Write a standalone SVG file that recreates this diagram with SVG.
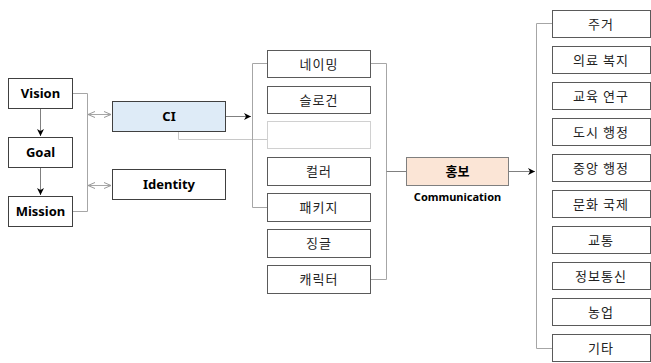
<svg xmlns="http://www.w3.org/2000/svg" width="651" height="363" viewBox="0 0 651 363">
<defs>
<style>
.bx{fill:#fff;stroke:#404040;stroke-width:1}
.mb{fill:#fff;stroke:#5a5a5a;stroke-width:1}
.ln{fill:none;stroke:#a6a6a6;stroke-width:1}
.en{font-family:"Noto Sans","Noto Sans CJK KR",sans-serif;font-weight:bold;font-size:13px;fill:#000;text-anchor:middle}
.kr{font-family:"Noto Sans CJK KR",sans-serif;font-size:13px;fill:#222;text-anchor:middle;letter-spacing:1px}
</style>
<marker id="ah" markerWidth="8" markerHeight="8" refX="7" refY="4" orient="auto" markerUnits="userSpaceOnUse">
<path d="M0,0.5 L7,4 L0,7.5 L2,4 Z" fill="#000"/>
</marker>
<marker id="ga" markerWidth="8" markerHeight="8" refX="7" refY="4" orient="auto-start-reverse" markerUnits="userSpaceOnUse">
<path d="M0,1 L7,4 L0,7" fill="none" stroke="#999" stroke-width="1"/>
</marker>
</defs>
<rect width="651" height="363" fill="#fff"/>
<g id="connectors">
<path d="M40.5,108 V136" stroke="#808080" fill="none" marker-end="url(#ah)"/>
<path d="M40.5,167 V195" stroke="#808080" fill="none" marker-end="url(#ah)"/>
<path class="ln" d="M73,93.5 H87.5 V211.5 H73"/>
<path class="ln" d="M88,114.5 H111" marker-start="url(#ga)" marker-end="url(#ga)"/>
<path class="ln" d="M88,185.5 H111" marker-start="url(#ga)" marker-end="url(#ga)"/>
<path d="M226,116.5 H251" stroke="#808080" fill="none" marker-end="url(#ah)"/>
<path class="ln" d="M178.5,131 V139.5 H267" style="stroke:#c8c8c8"/>
<path class="ln" d="M267,63.5 H252.5 V207.5 H267"/>
<path class="ln" d="M371,63.5 H386.5 V279.5 H371"/>
<path class="ln" d="M386.5,171.5 H406" style="stroke:#808080"/>
<path d="M509,171.5 H535" stroke="#808080" fill="none" marker-end="url(#ah)"/>
<path class="ln" d="M552,23.5 H536.5 V348.5 H552"/>
</g>
<g id="vision"><rect class="bx" x="8.5" y="78.5" width="64" height="30"/><text class="en" x="40.5" y="98">Vision</text></g>
<g id="goal"><rect class="bx" x="8.5" y="137.5" width="64" height="30"/><text class="en" x="40.5" y="157">Goal</text></g>
<g id="mission"><rect class="bx" x="8.5" y="196.5" width="64" height="30"/><text class="en" x="40.5" y="216">Mission</text></g>
<g id="ci"><rect class="bx" x="112.5" y="101.5" width="113" height="30" style="fill:#deebf7"/><text class="en" x="169" y="121">CI</text></g>
<g id="identity"><rect class="bx" x="112.5" y="169.5" width="113" height="30"/><text class="en" x="169" y="189">Identity</text></g>
<g id="naming"><rect class="mb" x="267.5" y="50.5" width="103" height="27"/><text class="kr" x="319" y="69">네이밍</text></g>
<g id="slogan"><rect class="mb" x="267.5" y="86.5" width="103" height="27"/><text class="kr" x="319" y="105">슬로건</text></g>
<g id="empty"><rect class="mb" x="267.5" y="121.5" width="103" height="27" style="stroke:#d0d0d0"/></g>
<g id="color"><rect class="mb" x="267.5" y="157.5" width="103" height="28"/><text class="kr" x="319" y="176">컬러</text></g>
<g id="package"><rect class="mb" x="267.5" y="193.5" width="103" height="28"/><text class="kr" x="319" y="212">패키지</text></g>
<g id="jingle"><rect class="mb" x="267.5" y="229.5" width="103" height="28"/><text class="kr" x="319" y="248">징글</text></g>
<g id="character"><rect class="mb" x="267.5" y="265.5" width="103" height="28"/><text class="kr" x="319" y="284">캐릭터</text></g>
<g id="pr"><rect x="406.5" y="157.5" width="102" height="28" fill="#fbe5d6" stroke="#7f7f7f"/><text class="en" x="457.5" y="176">홍보</text><text class="en" x="457.5" y="201" style="font-size:11px">Communication</text></g>
<g id="r1"><rect class="mb" x="552.5" y="10.5" width="98" height="27"/><text class="kr" x="601" y="29">주거</text></g>
<g id="r2"><rect class="mb" x="552.5" y="46.5" width="98" height="27"/><text class="kr" x="601" y="65">의료 복지</text></g>
<g id="r3"><rect class="mb" x="552.5" y="82.5" width="98" height="27"/><text class="kr" x="601" y="101">교육 연구</text></g>
<g id="r4"><rect class="mb" x="552.5" y="118.5" width="98" height="27"/><text class="kr" x="601" y="137">도시 행정</text></g>
<g id="r5"><rect class="mb" x="552.5" y="154.5" width="98" height="27"/><text class="kr" x="601" y="173">중앙 행정</text></g>
<g id="r6"><rect class="mb" x="552.5" y="190.5" width="98" height="27"/><text class="kr" x="601" y="209">문화 국제</text></g>
<g id="r7"><rect class="mb" x="552.5" y="226.5" width="98" height="27"/><text class="kr" x="601" y="245">교통</text></g>
<g id="r8"><rect class="mb" x="552.5" y="262.5" width="98" height="27"/><text class="kr" x="601" y="281">정보통신</text></g>
<g id="r9"><rect class="mb" x="552.5" y="298.5" width="98" height="27"/><text class="kr" x="601" y="317">농업</text></g>
<g id="r10"><rect class="mb" x="552.5" y="334.5" width="98" height="27"/><text class="kr" x="601" y="353">기타</text></g>
</svg>
